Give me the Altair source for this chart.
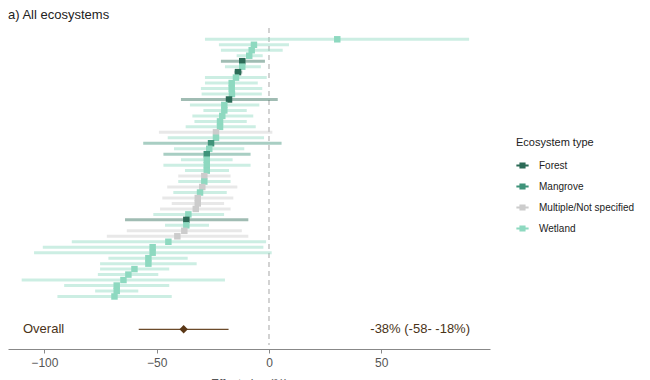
import altair as alt
import pandas as pd

# ---- data ----
eco = ["Wetland", "Wetland", "Wetland", "Wetland", "Forest", "Wetland", "Forest", "Wetland",
       "Wetland", "Wetland", "Wetland", "Forest", "Wetland", "Wetland", "Wetland", "Wetland",
       "Wetland", "Multiple/Not specified", "Wetland", "Mangrove", "Wetland", "Mangrove", "Wetland", "Wetland",
       "Wetland", "Multiple/Not specified", "Wetland", "Multiple/Not specified", "Wetland",
       "Multiple/Not specified", "Multiple/Not specified", "Multiple/Not specified",
       "Wetland", "Forest", "Wetland", "Multiple/Not specified", "Multiple/Not specified", "Wetland",
       "Wetland", "Wetland", "Wetland", "Wetland", "Wetland", "Wetland", "Wetland", "Wetland",
       "Wetland", "Wetland"]
est = [30.4, -6.7, -7.7, -8.8, -11.9, -11.9, -13.8, -14.7,
       -16.6, -16.6, -16.5, -17.8, -19.9, -19.9, -20.8, -21.8,
       -21.8, -23.6, -23.6, -25.8, -26.6, -27.7, -27.7, -27.7,
       -27.7, -28.8, -28.8, -29.7, -30.7, -31.7, -31.7, -32.6,
       -35.9, -36.8, -36.8, -37.7, -40.8, -44.8, -51.8, -51.8,
       -53.7, -53.7, -59.9, -62.6, -64.8, -67.8, -67.8, -68.8]
lo = [-28.5, -22.3, -21.4, -14.4, -21.4, -19.6, -15.4, -28.5,
      -28.5, -30.3, -30.0, -39.2, -35.2, -29.2, -34.1, -33.2,
      -37.1, -49.0, -45.1, -56.0, -42.3, -47.0, -39.2, -47.0,
      -37.4, -40.4, -40.4, -45.3, -42.6, -47.5, -43.3, -48.5,
      -51.5, -64.1, -46.3, -63.3, -72.2, -87.8, -100.7, -104.6,
      -71.5, -75.2, -75.2, -76.2, -110.1, -91.2, -77.4, -94.2]
hi = [89.1, 8.9, 6.1, -2.8, -1.8, -3.6, -11.9, -1.0,
      -5.0, -3.0, -3.2, 3.9, -4.3, -9.9, -7.0, -9.9,
      -5.9, 1.5, -2.2, 5.6, -11.0, -8.2, -16.2, -8.2,
      -17.8, -17.1, -17.1, -14.1, -18.8, -15.9, -20.0, -17.1,
      -20.0, -9.2, -26.7, -12.1, -9.2, -1.3, -2.5, 1.2,
      -36.2, -32.2, -44.4, -49.3, -19.6, -44.4, -58.2, -43.3]

overall_est = [-38]
overall_lo = [-58]
overall_hi = [-18]
overall_label = ["-38% (-58- -18%)"]

types = ["Forest", "Mangrove", "Multiple/Not specified", "Wetland"]
type_colors = ["#2c6b57", "#3f937a", "#cccccc", "#8ed9c0"]
tick_values = [-100, -50, 0, 50]

df = pd.DataFrame({"row": list(range(len(est))), "eco": eco, "est": est, "lo": lo, "hi": hi})
ov = pd.DataFrame({"row": [53], "est": overall_est, "lo": overall_lo, "hi": overall_hi,
                   "label": overall_label, "name": ["Overall"]})

W, H = 482, 319
xscale = alt.Scale(domain=[-116.2, 98.4], nice=False, zero=False)
yscale = alt.Scale(domain=[-1.7, 56.6], reverse=True, nice=False, zero=False)
cscale = alt.Scale(domain=types, range=type_colors)

font = "Liberation Sans"

legend = alt.Legend(orient="none", legendX=508, legendY=107, padding=0,
                    symbolType="M-1,-0.18L1,-0.18L1,0.18L-1,0.18Z M-0.5,-0.5L0.5,-0.5L0.5,0.5L-0.5,0.5Z",
                    symbolSize=150, symbolOpacity=1, symbolStrokeWidth=0,
                    titleFont=font, titleFontSize=11, titleFontWeight="normal",
                    titleColor="#222222", labelFont=font, labelFontSize=10,
                    labelColor="#222222", rowPadding=9, titlePadding=11,
                    labelOffset=10)

zero = alt.Chart(pd.DataFrame({"z": [0]})).mark_rule(
    color="#c4c4c4", strokeDash=[5, 4], strokeWidth=1.5
).encode(x=alt.X("z:Q", scale=xscale), y=alt.value(-2), y2=alt.value(H - 4))

rules = alt.Chart(df).mark_rule(strokeWidth=3, opacity=0.45).encode(
    x=alt.X("lo:Q", scale=xscale,
            axis=alt.Axis(values=tick_values, title="Effect size (%)", grid=False,
                          domainColor="#888888", tickColor="#888888", tickSize=4,
                          labelColor="#555555", labelFontSize=12, labelFont=font,
                          titleFont=font, titleFontSize=12, titleFontWeight="normal",
                          titleColor="#555555", labelPadding=4, titlePadding=10)),
    x2="hi:Q",
    y=alt.Y("row:Q", scale=yscale, axis=None),
    color=alt.Color("eco:N", scale=cscale, title="Ecosystem type", legend=legend),
)

points = alt.Chart(df).mark_point(shape="square", filled=True, size=42, opacity=1).encode(
    x=alt.X("est:Q", scale=xscale),
    y=alt.Y("row:Q", scale=yscale),
    color=alt.Color("eco:N", scale=cscale, title="Ecosystem type", legend=legend),
)

ov_rule = alt.Chart(ov).mark_rule(color="#6b4a2a", strokeWidth=1.3).encode(
    x=alt.X("lo:Q", scale=xscale), x2="hi:Q", y=alt.Y("row:Q", scale=yscale))
ov_pt = alt.Chart(ov).mark_point(shape="diamond", filled=True, size=70, color="#5a3716", opacity=1).encode(
    x=alt.X("est:Q", scale=xscale), y=alt.Y("row:Q", scale=yscale))
ov_name = alt.Chart(ov).mark_text(align="left", baseline="middle", font=font, fontSize=13,
                                  color="#4a3318").encode(
    x=alt.value(15), y=alt.Y("row:Q", scale=yscale), text="name:N")
ov_lab = alt.Chart(ov).mark_text(align="right", baseline="middle", font=font, fontSize=13,
                                 color="#4a3318").encode(
    x=alt.value(462), y=alt.Y("row:Q", scale=yscale), text="label:N")

chart = alt.layer(zero, rules, points, ov_rule, ov_pt, ov_name, ov_lab).properties(
    width=W, height=H,
    padding={"left": 0, "top": 1, "right": 0, "bottom": 5},
    title=alt.Title("a) All ecosystems", anchor="start", fontSize=13, fontWeight="normal",
                    font=font, color="#222222", offset=5),
).configure_view(stroke=None)

chart.save("out.html", embed_options={"renderer": "svg", "actions": False})
